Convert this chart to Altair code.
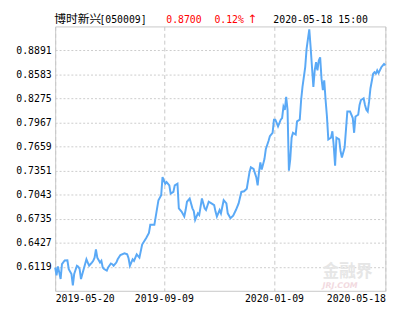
import altair as alt
import pandas as pd

# trading-day index and net asset value
day_idx = [0, 1, 2, 3, 4, 5, 7, 9, 10, 12, 13, 14, 16, 17, 18, 19, 20, 23, 24, 25,
           27, 28, 29, 30, 31, 33, 34, 35, 36, 38, 39, 41, 42, 43, 45, 46, 48, 51, 53, 54,
           55, 56, 57, 58, 60, 62, 64, 67, 69, 70, 73, 75, 76, 78, 79, 81, 82, 84, 85, 87,
           88, 90, 91, 93, 95, 96, 97, 99, 101, 102, 103, 105, 106, 108, 110, 111, 113, 115, 117, 118,
           119, 121, 122, 124, 126, 127, 129, 131, 133, 135, 137, 139, 141, 143, 144, 146, 148, 149, 150, 151,
           152, 154, 155, 157, 158, 160, 161, 162, 163, 164, 166, 167, 168, 169, 170, 171, 172, 173, 174, 175,
           177, 178, 180, 181, 182, 184, 185, 186, 187, 188, 189, 190, 191, 192, 193, 194, 195, 196, 197, 198,
           199, 200, 201, 203, 204, 205, 206, 207, 209, 210, 211, 213, 214, 215, 217, 219, 220, 221, 223, 224,
           225, 227, 228, 229, 230, 231, 232, 234, 235, 236, 237, 238, 240, 241, 242, 243]
nav = [0.6110, 0.6009, 0.6123, 0.6047, 0.5962, 0.6152, 0.6199, 0.6202, 0.6089, 0.6026,
       0.5879, 0.6026, 0.6132, 0.6119, 0.6089, 0.5962, 0.6026, 0.6215, 0.6173, 0.6132,
       0.6173, 0.6195, 0.6236, 0.6341, 0.6236, 0.6173, 0.6195, 0.6110, 0.6089, 0.6069,
       0.6110, 0.6161, 0.6152, 0.6132, 0.6173, 0.6215, 0.6270, 0.6291, 0.6278, 0.6228,
       0.6132, 0.6173, 0.6215, 0.6195, 0.6278, 0.6236, 0.6404, 0.6489, 0.6552, 0.6657,
       0.6657, 0.6868, 0.6972, 0.7035, 0.7268, 0.7183, 0.7205, 0.7162, 0.7057, 0.7078,
       0.7162, 0.7183, 0.6868, 0.6826, 0.6763, 0.6846, 0.6952, 0.6994, 0.6868, 0.6833,
       0.6720, 0.6804, 0.6783, 0.6994, 0.6868, 0.6846, 0.6952, 0.6931, 0.6909, 0.6826,
       0.6763, 0.6846, 0.6804, 0.6972, 0.6931, 0.6804, 0.6741, 0.6775, 0.6846, 0.6931,
       0.7078, 0.7086, 0.7120, 0.7331, 0.7394, 0.7372, 0.7268, 0.7162, 0.7331, 0.7457,
       0.7364, 0.7499, 0.7625, 0.7730, 0.7793, 0.7836, 0.8004, 0.8004, 0.7962, 0.7919,
       0.8004, 0.8025, 0.8172, 0.8130, 0.8298, 0.8130, 0.7351, 0.7499, 0.7773, 0.7836,
       0.7814, 0.7982, 0.8004, 0.8256, 0.8424, 0.8676, 0.8909, 0.9035, 0.9161, 0.8929,
       0.8676, 0.8424, 0.8635, 0.8740, 0.8635, 0.8761, 0.8803, 0.8530, 0.8382, 0.8509,
       0.8256, 0.8045, 0.7751, 0.7773, 0.7856, 0.7667, 0.7414, 0.7773, 0.7751, 0.7603,
       0.7520, 0.7646, 0.7877, 0.8108, 0.8108, 0.8025, 0.7836, 0.8045, 0.8067, 0.8193,
       0.8256, 0.8278, 0.8193, 0.8130, 0.8108, 0.8235, 0.8404, 0.8593, 0.8613, 0.8593,
       0.8635, 0.8601, 0.8676, 0.8698, 0.8719, 0.8700]

y_ticks = [0.6119, 0.6427, 0.6735, 0.7043, 0.7351, 0.7659, 0.7967, 0.8275, 0.8583, 0.8891]
y_domain = [0.5811, 0.9199]
x_tick_idx = [0, 80, 161, 243]
x_tick_labels = ["2019-05-20", "2019-09-09", "2020-01-09", "2020-05-18"]

fund_name = "博时新兴"
fund_code = "[050009]"
last_nav = "0.8700"
last_change = "0.12%"
arrow = "↑"
last_time = "2020-05-18 15:00"

df = pd.DataFrame({"idx": day_idx, "nav": nav})

NBSP = "\u00a0"
label_expr_parts = []
for i, (v, lab) in enumerate(zip(x_tick_idx, x_tick_labels)):
    if i == len(x_tick_idx) - 1:
        lab = lab + NBSP * 4
    label_expr_parts.append(f"datum.value == {v} ? '{lab}'")
label_expr = " : ".join(label_expr_parts) + " : ''"

MONO = "DejaVu Sans Mono"

line = alt.Chart(df).mark_line(color="#5AA9F6", strokeWidth=2).encode(
    x=alt.X("idx:Q",
            scale=alt.Scale(domain=[0, 243], nice=False, zero=False),
            axis=alt.Axis(values=x_tick_idx, labelExpr=label_expr, title=None,
                          domain=False, ticks=False, labelPadding=3,
                          labelFont=MONO, labelFontSize=10, labelColor="#000000",
                          labelOverlap=False, grid=True, gridColor="#C8C8C8",
                          gridDash=[4, 3], gridWidth=1)),
    y=alt.Y("nav:Q",
            scale=alt.Scale(domain=y_domain, nice=False, zero=False),
            axis=alt.Axis(values=y_ticks, format=".4f", title=None,
                          domain=False, ticks=False, labelPadding=4,
                          labelFont=MONO, labelFontSize=10, labelColor="#000000",
                          labelOverlap=False, grid=True, gridColor="#CCCCCC",
                          gridDash=[2, 2], gridWidth=1)),
)

one = alt.Data(values=[{}])

def header(text, x, color, font=MONO, size=10):
    return alt.Chart(one).mark_text(
        align="left", baseline="alphabetic", font=font, fontSize=size, color=color
    ).encode(x=alt.value(x), y=alt.value(-4), text=alt.value(text))

h1 = header(fund_name, -1, "#000000", font="Noto Sans CJK SC", size=12)
h2 = header(fund_code, 45, "#000000")
h3 = header(last_nav, 113, "#FF0000")
h4 = header(last_change, 162, "#FF0000")
h4b = header(arrow, 196, "#FF0000", font="DejaVu Sans", size=12)
h5 = header(last_time, 222, "#000000")

wm1 = alt.Chart(one).mark_text(
    align="left", baseline="alphabetic", font="Noto Sans CJK SC", fontSize=17,
    fontWeight="bold", color="#E6E6E6"
).encode(x=alt.value(272), y=alt.value(255), text=alt.value("金融界"))
wm2 = alt.Chart(one).mark_text(
    align="left", baseline="alphabetic", font="DejaVu Sans", fontSize=8,
    fontWeight="bold", fontStyle="italic", color="#F2DADF"
).encode(x=alt.value(272), y=alt.value(266), text=alt.value("JRJ.COM"))

chart = alt.layer(wm1, wm2, line, h1, h2, h3, h4, h4b, h5).properties(
    width=336, height=269,
    autosize=alt.AutoSizeParams(type="none"),
    padding={"left": 48, "top": 16, "right": 22, "bottom": 30},
).configure_view(stroke="#C8C8C8", strokeWidth=1)

chart.save("out.html", embed_options={"renderer": "svg", "actions": False})
